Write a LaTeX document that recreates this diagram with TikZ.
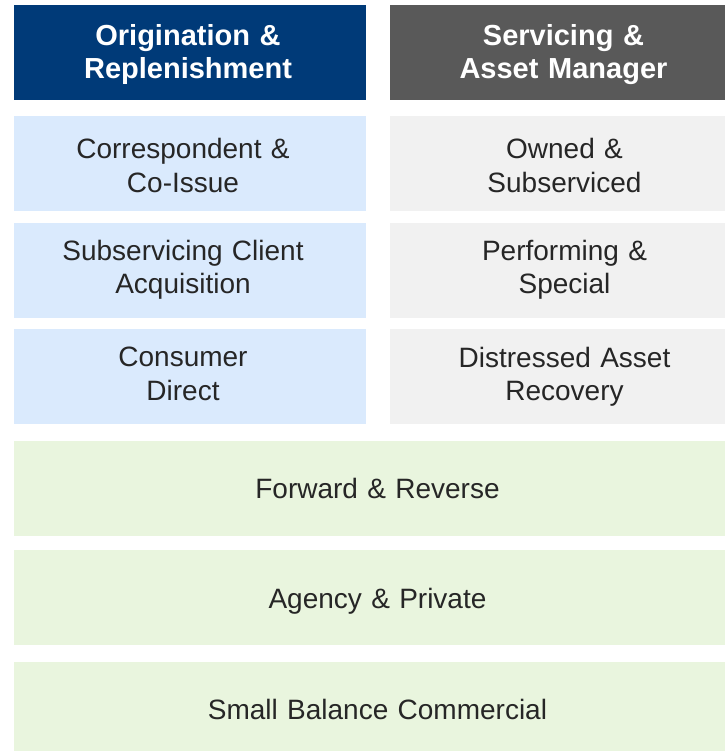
\documentclass[tikz,border=0pt]{standalone}
\usepackage{fontspec}
\setmainfont{Liberation Sans}
\usepackage{tikz}
\usetikzlibrary{positioning}
\definecolor{navy}{HTML}{003A78}
\definecolor{darkgrey}{HTML}{595959}
\definecolor{paleblue}{HTML}{DAEAFD}
\definecolor{palegrey}{HTML}{F1F1F1}
\definecolor{palegreen}{HTML}{E9F5DE}
\definecolor{txt}{HTML}{262626}
\newcommand\nudgetext[1]{\leftskip=#1 plus 1fil\rightskip=-#1 plus 1fil\parfillskip=0pt\parindent=0pt\let\\\par}

\begin{document}
\begin{tikzpicture}[
   x=1pt,y=-1pt,
   font=\fontsize{28}{33.3}\selectfont,
   nudge/.style={execute at begin node={\nudgetext{#1}}},
   box/.style={minimum height=95pt,inner sep=0pt,text depth=30.5pt,text=txt},
   raised/.style={text depth=39.5pt},
   head/.style={box,text depth=35pt,text=white,font=\fontsize{29}{33.3}\selectfont\bfseries},
   orig/.style={box,fill=paleblue,text width=352pt,nudge=-7pt},
   serv/.style={box,fill=palegrey,text width=335pt,nudge=7pt},
   wide/.style={box,fill=palegreen,text width=711pt,text depth=-2.5pt,nudge=8pt},
   node distance=11pt]
\useasboundingbox (0,0) rectangle (725,751);
% column heads
\node[head,fill=navy,text width=352pt,nudge=-2pt] (OR) at (190,52.5) {Origination \&\\Replenishment};
\node[head,fill=darkgrey,text width=335pt,nudge=6pt] (SAM) at (557.5,52.5) {Servicing \&\\Asset Manager};
% left column
\node[orig,below=16pt of OR] (CC) {Correspondent \&\\Co-Issue};
\node[orig,raised,below=of CC] (SCA) {Subservicing Client\\Acquisition};
\node[orig,raised,below=of SCA] (CD) {Consumer\\Direct};
% right column
\node[serv,below=16pt of SAM] (OS) {Owned \&\\Subserviced};
\node[serv,raised,below=of OS] (PS) {Performing \&\\Special};
\node[serv,raised,below=of PS] (DAR) {Distressed Asset\\Recovery};
% full width rows
\node[wide] (FR) at (369.5,488.5) {Forward \& Reverse};
\node[wide,below=14pt of FR] (AP) {Agency \& Private};
\node[wide,below=16pt of AP] (SBC) {Small Balance Commercial};
\end{tikzpicture}
\end{document}
